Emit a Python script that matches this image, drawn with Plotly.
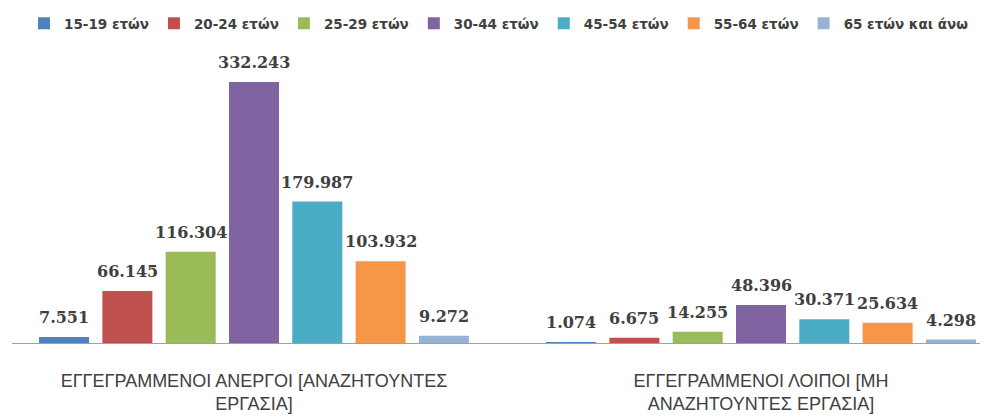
import plotly.graph_objects as go

categories = [
    "ΕΓΓΕΓΡΑΜΜΕΝΟΙ ΑΝΕΡΓΟΙ [ΑΝΑΖΗΤΟΥΝΤΕΣ<br>ΕΡΓΑΣΙΑ]",
    "ΕΓΓΕΓΡΑΜΜΕΝΟΙ ΛΟΙΠΟΙ [ΜΗ<br>ΑΝΑΖΗΤΟΥΝΤΕΣ ΕΡΓΑΣΙΑ]",
]
series_names = ["15-19 ετών", "20-24 ετών", "25-29 ετών", "30-44 ετών",
                "45-54 ετών", "55-64 ετών", "65 ετών και άνω"]
v_15_19 = [7551, 1074]
v_20_24 = [66145, 6675]
v_25_29 = [116304, 14255]
v_30_44 = [332243, 48396]
v_45_54 = [179987, 30371]
v_55_64 = [103932, 25634]
v_65_up = [9272, 4298]
series_values = [v_15_19, v_20_24, v_25_29, v_30_44, v_45_54, v_55_64, v_65_up]
colors = ["#4F81BD", "#C0504D", "#9BBB59", "#8064A2", "#4BACC6", "#F79646", "#95B3D7"]

BARGAP = 0.126
GROUPGAP = 0.21

# the page body has an 8px margin, so the figure is sized to fill the rest of the window
W, H = 980, 408


def fmt(v):
    return f"{v:,}".replace(",", ".")


fig = go.Figure()
for name, vals, col in zip(series_names, series_values, colors):
    fig.add_trace(go.Bar(
        name=name, x=categories, y=vals,
        marker=dict(color=col, line=dict(width=0)),
        hoverinfo="skip",
    ))

n = len(series_names)
slot = (1 - BARGAP) / n
annotations = []
for i, vals in enumerate(series_values):
    for c, v in enumerate(vals):
        annotations.append(dict(
            x=c + (i - (n - 1) / 2) * slot, y=v, xref="x", yref="y",
            text=fmt(v), showarrow=False, yanchor="bottom", yshift=8,
            font=dict(family="DejaVu Serif", size=16, color="#404040", weight="bold"),
        ))

fig.update_layout(
    width=W, height=H,
    margin=dict(l=4, r=0, t=32, b=73),
    paper_bgcolor="white", plot_bgcolor="white",
    barmode="group", bargap=BARGAP, bargroupgap=GROUPGAP,
    showlegend=True,
    legend=dict(
        orientation="h", xref="container", yref="container",
        x=16 / W, xanchor="left", y=1, yanchor="top",
        font=dict(family="DejaVu Sans", size=13.5, color="#404040", weight="bold"),
        traceorder="normal",
        bgcolor="rgba(0,0,0,0)", borderwidth=0,
    ),
    annotations=annotations,
    xaxis=dict(
        type="category", range=[-0.4773, 1.4477], automargin=False,
        showline=True, linecolor="#A0A0A0", linewidth=1,
        ticks="", ticklabelstandoff=21,
        tickfont=dict(family="Liberation Sans", size=18, color="#404040"),
        showgrid=False, zeroline=False, fixedrange=True,
    ),
    yaxis=dict(
        range=[0, 385700], visible=False, showgrid=False, zeroline=False,
        fixedrange=True, automargin=False,
    ),
)

fig.write_html("out.html")
